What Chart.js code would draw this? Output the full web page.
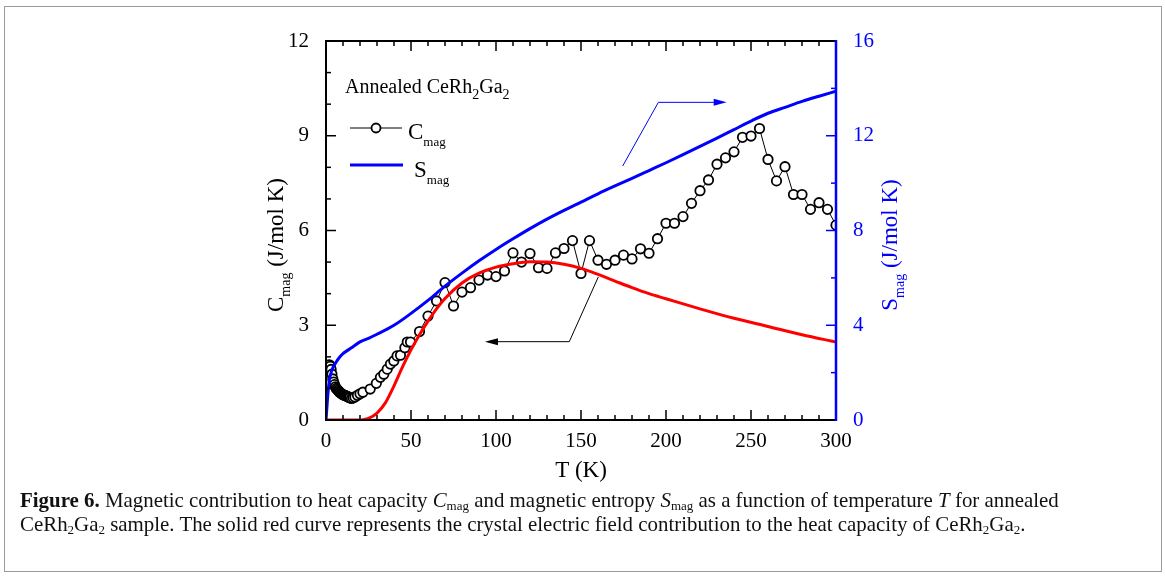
<!DOCTYPE html>
<html>
<head>
<meta charset="utf-8">
<script src="https://cdn.jsdelivr.net/npm/chart.js@4.4.0/dist/chart.umd.min.js"></script>
<style>
  body { margin: 0; background: #fff; }
  #wrap { position: relative; width: 1165px; height: 580px; overflow: hidden; }
  #frame { position: absolute; left: 4px; top: 6px; width: 1156px; height: 564px; border: 1px solid #9a9a9a; }
  #caption { position: absolute; left: 20px; top: 488px; width: 1140px; white-space: nowrap;
    font-family: "Liberation Serif", serif; font-size: 20.9px; line-height: 24px; color: #111; }
  #caption sub { font-size: 13px; vertical-align: -3px; line-height: 0; }
</style>
</head>
<body>
<div id="wrap">
  <canvas id="chart" width="1165" height="580"></canvas>
  <div id="frame"></div>
  <div id="caption"><b>Figure 6.</b> Magnetic contribution to heat capacity <i>C</i><sub>mag</sub> and magnetic entropy <i>S</i><sub>mag</sub> as a function of temperature <i>T</i> for annealed<br>CeRh<sub>2</sub>Ga<sub>2</sub> sample. The solid red curve represents the crystal electric field contribution to the heat capacity of CeRh<sub>2</sub>Ga<sub>2</sub>.</div>
</div>
<script>
// measured C_mag (open circles)
const tMeas = [1,1.5,2,2.5,3,3.5,4,4.5,5,5.5,6,6.5,7,7.5,8,8.5,9,9.5,10,10.5,
  11,11.5,12,12.5,13,13.5,14,15,16,17,18.5,20,21.7,26,29.6,32,34,36,37.9,39.9,
  41.8,43.8,46.4,47.8,49.7,55,60,65,70,75,80,85,90,95,100,105,110,115,120,125,
  130,135,140,145,150,155,160,165,170,175,180,185,190,195,200,205,210,215,220,225,
  230,235,240,245,250,255,260,265,270,275,280,285,290,295,300];
const cmag = [1.6,1.72,1.75,1.7,1.6,1.45,1.3,1.2,1.12,1.05,1.0,0.97,0.94,0.91,0.88,0.86,0.84,0.82,0.8,0.79,
  0.78,0.77,0.76,0.75,0.73,0.72,0.7,0.68,0.7,0.73,0.78,0.83,0.88,0.98,1.16,1.35,1.45,1.61,1.77,1.87,
  2.03,2.05,2.29,2.47,2.47,2.8,3.29,3.77,4.35,3.61,4.05,4.19,4.43,4.59,4.54,4.72,5.29,5.0,5.27,4.82,
  4.8,5.29,5.43,5.68,4.64,5.68,5.06,4.93,5.06,5.22,5.1,5.42,5.28,5.74,6.23,6.23,6.44,6.86,7.26,7.6,
  8.1,8.3,8.49,8.95,8.99,9.23,8.25,7.57,8.02,7.14,7.14,6.67,6.88,6.67,6.17];

// crystal field curve (red)
const tCef = [0,10,20,22,25,30,35,40,45,50,55,60,65,70,80,90,100,110,120,130,140,150,160,170,180,190,200,220,240,260,280,300];
const cef = [0,0,0,0.01,0.05,0.22,0.55,1.08,1.68,2.22,2.7,3.13,3.52,3.85,4.34,4.65,4.84,4.95,5.01,5.0,4.93,4.8,4.61,4.4,4.19,4.0,3.84,3.52,3.22,2.96,2.7,2.47];

// entropy (blue, right axis)
const tEnt = [0,0.5,1,1.5,2,3,4,6,8,10,15,20,25,30,40,50,60,70,80,90,100,110,120,130,140,150,160,170,180,190,200,210,220,230,240,250,260,270,280,290,300];
const smag = [0,0.5,1.0,1.4,1.7,2.0,2.2,2.45,2.65,2.8,3.05,3.3,3.45,3.62,4.0,4.5,5.05,5.65,6.2,6.72,7.2,7.65,8.08,8.48,8.85,9.2,9.55,9.88,10.2,10.53,10.86,11.2,11.55,11.9,12.26,12.62,12.95,13.2,13.45,13.67,13.88];

const xMajor = [0,50,100,150,200,250,300];
const yMajor = [0,3,6,9,12];
const y2Major = [0,4,8,12,16];

const SERIF = '"Liberation Serif", "Times New Roman", serif';
const BLUE = '#0000ff';

function pts(xs, ys) { return xs.map((v, i) => ({x: v, y: ys[i]})); }

// text with subscript pieces: [[str, isSub], ...]
function richWidth(ctx, parts, size, sub) {
  let w = 0;
  parts.forEach(p => { ctx.font = (p[1] ? sub : size) + 'px ' + SERIF; w += ctx.measureText(p[0]).width; });
  return w;
}
function richText(ctx, parts, x, y, size, sub, align) {
  let w = richWidth(ctx, parts, size, sub);
  let cx = align === 'center' ? x - w / 2 : x;
  ctx.textAlign = 'left';
  ctx.textBaseline = 'alphabetic';
  parts.forEach(p => {
    ctx.font = (p[1] ? sub : size) + 'px ' + SERIF;
    ctx.fillText(p[0], cx, p[1] ? y + size * 0.3 : y);
    cx += ctx.measureText(p[0]).width;
  });
}
function arrowHead(ctx, x, y, dir, color) {
  ctx.fillStyle = color;
  ctx.beginPath();
  ctx.moveTo(x, y);
  ctx.lineTo(x - dir * 13, y - 3.5);
  ctx.lineTo(x - dir * 13, y + 3.5);
  ctx.closePath();
  ctx.fill();
}

const decor = {
  id: 'decor',
  afterDraw(chart) {
    const {ctx, chartArea: a, scales: {x, y, y2}} = chart;
    ctx.save();
    // ticks pointing inward
    ctx.lineWidth = 1.5;
    ctx.strokeStyle = '#000';
    for (let t = 0; t <= 300; t += 10) {
      const px = x.getPixelForValue(t), len = t % 50 === 0 ? 10 : 5;
      ctx.beginPath();
      ctx.moveTo(px, a.bottom); ctx.lineTo(px, a.bottom - len);
      ctx.moveTo(px, a.top); ctx.lineTo(px, a.top + len);
      ctx.stroke();
    }
    for (let v = 0; v <= 12; v += 1) {
      const py = y.getPixelForValue(v), len = v % 3 === 0 ? 10 : 5;
      ctx.beginPath(); ctx.moveTo(a.left, py); ctx.lineTo(a.left + len, py); ctx.stroke();
    }
    ctx.strokeStyle = BLUE;
    for (let v = 0; v <= 16; v += 2) {
      const py = y2.getPixelForValue(v), len = v % 4 === 0 ? 10 : 5;
      ctx.beginPath(); ctx.moveTo(a.right, py); ctx.lineTo(a.right - len, py); ctx.stroke();
    }
    // frame
    ctx.lineWidth = 2;
    ctx.strokeStyle = '#000';
    ctx.beginPath();
    ctx.moveTo(a.right, a.top); ctx.lineTo(a.left, a.top); ctx.lineTo(a.left, a.bottom); ctx.lineTo(a.right, a.bottom);
    ctx.stroke();
    ctx.strokeStyle = BLUE;
    ctx.lineWidth = 2.5;
    ctx.beginPath(); ctx.moveTo(a.right, a.top - 1); ctx.lineTo(a.right, a.bottom + 1); ctx.stroke();

    // arrows
    ctx.lineWidth = 1;
    ctx.strokeStyle = '#000';
    const b1 = [x.getPixelForValue(160.2), y.getPixelForValue(4.53)];
    const b2 = [x.getPixelForValue(143.1), y.getPixelForValue(2.48)];
    const b3 = [x.getPixelForValue(93.5), y.getPixelForValue(2.48)];
    ctx.beginPath(); ctx.moveTo(b1[0], b1[1]); ctx.lineTo(b2[0], b2[1]); ctx.lineTo(b3[0] + 10, b3[1]); ctx.stroke();
    arrowHead(ctx, b3[0], b3[1], -1, '#000');
    ctx.strokeStyle = BLUE;
    const u1 = [x.getPixelForValue(174.5), y2.getPixelForValue(10.72)];
    const u2 = [x.getPixelForValue(195.5), y2.getPixelForValue(13.41)];
    const u3 = [x.getPixelForValue(235.7), y2.getPixelForValue(13.41)];
    ctx.beginPath(); ctx.moveTo(u1[0], u1[1]); ctx.lineTo(u2[0], u2[1]); ctx.lineTo(u3[0] - 10, u3[1]); ctx.stroke();
    arrowHead(ctx, u3[0], u3[1], 1, BLUE);

    // legend block
    ctx.fillStyle = '#000';
    richText(ctx, [['Annealed CeRh', 0], ['2', 1], ['Ga', 0], ['2', 1]], 345, 93, 20, 14, 'left');
    ctx.strokeStyle = '#000'; ctx.lineWidth = 1;
    ctx.beginPath(); ctx.moveTo(350, 128); ctx.lineTo(402, 128); ctx.stroke();
    ctx.fillStyle = '#fff'; ctx.lineWidth = 1.8;
    ctx.beginPath(); ctx.arc(376, 128, 4.5, 0, Math.PI * 2); ctx.fill(); ctx.stroke();
    ctx.fillStyle = '#000';
    richText(ctx, [['C', 0], ['mag', 1]], 408, 139, 23, 13, 'left');
    ctx.strokeStyle = BLUE; ctx.lineWidth = 3;
    ctx.beginPath(); ctx.moveTo(350, 165); ctx.lineTo(403, 165); ctx.stroke();
    richText(ctx, [['S', 0], ['mag', 1]], 414, 177, 23, 13, 'left');

    // axis titles
    ctx.fillStyle = '#000';
    richText(ctx, [['T (K)', 0]], (a.left + a.right) / 2, 477, 23, 14, 'center');
    ctx.save();
    ctx.translate(283, 245); ctx.rotate(-Math.PI / 2);
    richText(ctx, [['C', 0], ['mag', 1], [' (J/mol K)', 0]], 0, 0, 23, 14, 'center');
    ctx.restore();
    ctx.save();
    ctx.fillStyle = BLUE;
    ctx.translate(897, 245); ctx.rotate(-Math.PI / 2);
    richText(ctx, [['S', 0], ['mag', 1], [' (J/mol K)', 0]], 0, 0, 23, 14, 'center');
    ctx.restore();
    ctx.restore();
  }
};

new Chart(document.getElementById('chart'), {
  type: 'line',
  data: {
    datasets: [
      { label: 'Smag', data: pts(tEnt, smag), yAxisID: 'y2', borderColor: BLUE, borderWidth: 3,
        pointRadius: 0, cubicInterpolationMode: 'monotone', fill: false },
      { label: 'CEF', data: pts(tCef, cef), yAxisID: 'y', borderColor: '#ff0000', borderWidth: 3,
        pointRadius: 0, cubicInterpolationMode: 'monotone', fill: false },
      { label: 'Cmag', data: pts(tMeas, cmag), yAxisID: 'y', borderColor: '#000', borderWidth: 1,
        pointRadius: 4.7, pointBorderWidth: 1.8, pointBackgroundColor: '#fff', pointBorderColor: '#000',
        tension: 0, fill: false }
    ]
  },
  options: {
    responsive: false,
    animation: false,
    devicePixelRatio: 1,
    layout: { padding: { top: 41, left: 0, right: 0, bottom: 0 } },
    plugins: { legend: { display: false }, tooltip: { enabled: false } },
    scales: {
      x: {
        type: 'linear', min: 0, max: 300,
        grid: { display: false }, border: { display: false },
        afterBuildTicks: s => { s.ticks = xMajor.map(v => ({value: v})); },
        afterFit: s => { s.height = 160; },
        ticks: { color: '#000', padding: 1, maxRotation: 0, font: { family: SERIF, size: 21 } }
      },
      y: {
        position: 'left', min: 0, max: 12,
        grid: { display: false }, border: { display: false },
        afterBuildTicks: s => { s.ticks = yMajor.map(v => ({value: v})); },
        afterFit: s => { s.width = 326; },
        ticks: { color: '#000', padding: 9, font: { family: SERIF, size: 21 } }
      },
      y2: {
        position: 'right', min: 0, max: 16,
        grid: { display: false }, border: { display: false },
        afterBuildTicks: s => { s.ticks = y2Major.map(v => ({value: v})); },
        afterFit: s => { s.width = 329; },
        ticks: { color: BLUE, padding: 9, font: { family: SERIF, size: 21 } }
      }
    }
  },
  plugins: [decor]
});
</script>
</body>
</html>
